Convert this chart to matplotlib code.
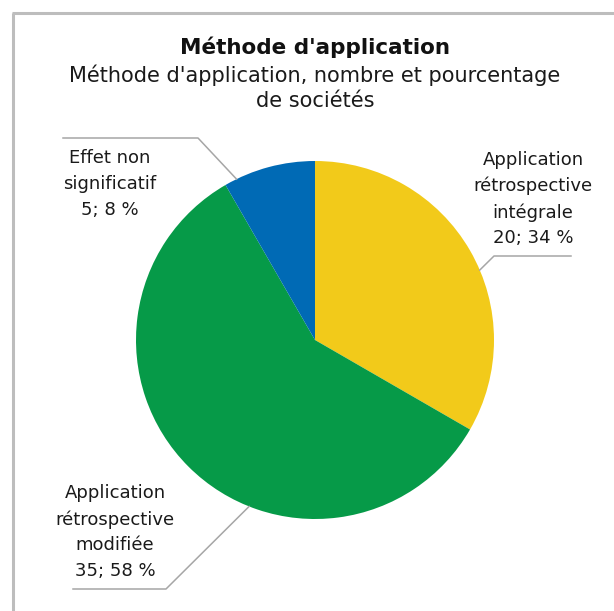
import matplotlib
matplotlib.use('Agg')
import matplotlib.pyplot as plt
import numpy as np

# Data
labels = ['Application\nrétrospective\nintégrale', 'Application\nrétrospective\nmodifiée',
          'Effet non\nsignificatif']
counts = [20, 35, 5]
pcts = [34, 58, 8]
colors = ['#F2CA1A', '#069A48', '#006AB5']

W, H = 614, 611
plt.rcParams['font.family'] = ['DejaVu Sans']

fig = plt.figure(figsize=(W / 100, H / 100), dpi=100)
ax = fig.add_axes([0, 0, 1, 1])

# frame (left and top edges)
ax.plot([13, 13], [0, H - 13], color='#BDBDBD', lw=2.2, solid_capstyle='butt')
ax.plot([12, W], [H - 13, H - 13], color='#BDBDBD', lw=2.2, solid_capstyle='butt')

# Pie
cx, cy, r = 315, H - 340, 179
ax.pie(counts, colors=colors, startangle=90, counterclock=False,
       center=(cx, cy), radius=r, frame=True,
       wedgeprops=dict(linewidth=0))
ax.set_xlim(0, W)
ax.set_ylim(0, H)
ax.set_aspect('equal')
ax.axis('off')

# Titles
ax.text(315, H - 47, "Méthode d'application", ha='center', va='center',
        fontsize=15.5, fontweight='bold', color='#111111')
ax.text(315, H - 88, "Méthode d'application, nombre et pourcentage\nde sociétés",
        ha='center', va='center', fontsize=15, color='#1a1a1a', linespacing=1.32)

# Labels with leader lines
# (anchor angle on pie, elbow point, end of horizontal, text pos)
leaders = [
    (23, (494, 256), 571, (533, 199)),
    (-111.6, (166, 589), 73, (115, 532)),
    (116, (198, 138), 63, (110, 184)),
]
for lab, n, p, (ang, elbow, xend, tpos) in zip(labels, counts, pcts, leaders):
    a = np.deg2rad(ang)
    x0, y0 = cx + r * np.cos(a), cy + r * np.sin(a)
    ax.plot([x0, elbow[0], xend], [y0, H - elbow[1], H - elbow[1]],
            color='#A6A6A6', lw=1.1)
    ax.text(tpos[0], H - tpos[1], f'{lab}\n{n}; {p} %', ha='center', va='center',
            fontsize=13, color='#1a1a1a', linespacing=1.55)

fig.savefig('out.png', dpi=100)
